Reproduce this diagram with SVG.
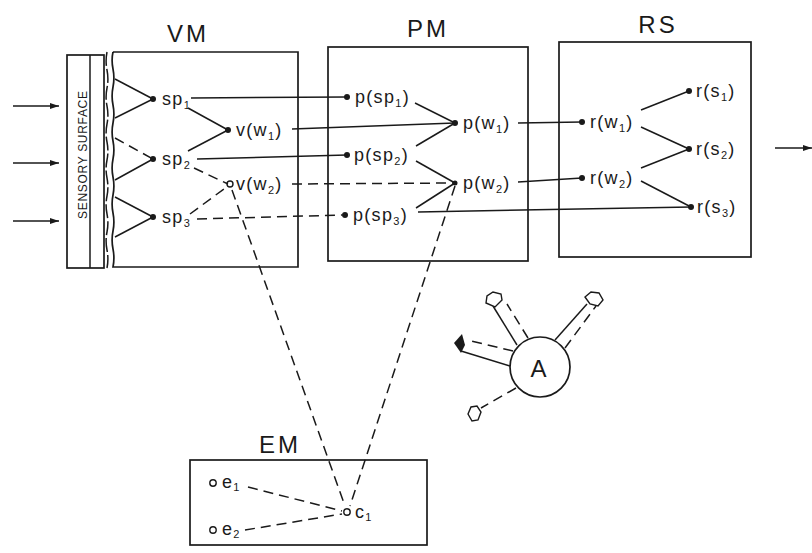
<svg xmlns="http://www.w3.org/2000/svg" width="812" height="553" viewBox="0 0 812 553">
<defs>
<style>
.ln{stroke:#1a1a1a;stroke-width:1.5;fill:none}
.ds{stroke:#1a1a1a;stroke-width:1.5;fill:none;stroke-dasharray:10,6}
.box{stroke:#1a1a1a;stroke-width:1.7;fill:none}
.t{font-family:"Liberation Sans","DejaVu Sans",sans-serif;font-size:18px;fill:#1a1a1a;letter-spacing:1.3px}
.ti{font-family:"Liberation Sans","DejaVu Sans",sans-serif;font-size:24px;fill:#1a1a1a;letter-spacing:3px}
.sub{font-size:11px}
.dot{fill:#1a1a1a}
.od{fill:#fff;stroke:#1a1a1a;stroke-width:1.4}
</style>
<marker id="ar" markerWidth="10" markerHeight="8" refX="9" refY="4" orient="auto" markerUnits="userSpaceOnUse">
<path d="M0,1 L9,4 L0,7 Z" fill="#1a1a1a"/>
</marker>
</defs>
<rect width="812" height="553" fill="#fff"/>

<g id="inputs">
<line class="ln" x1="13" y1="106" x2="59" y2="106" marker-end="url(#ar)"/>
<line class="ln" x1="13" y1="163" x2="59" y2="163" marker-end="url(#ar)"/>
<line class="ln" x1="13" y1="221" x2="59" y2="221" marker-end="url(#ar)"/>
</g>

<g id="sensory-surface">
<rect class="box" x="67" y="55" width="37" height="213"/>
<line class="ln" x1="90" y1="55" x2="90" y2="268"/>
<text transform="translate(87,155) rotate(-90)" text-anchor="middle" font-family="Liberation Sans, DejaVu Sans, sans-serif" font-size="12" fill="#1a1a1a" textLength="128" lengthAdjust="spacing">SENSORY SURFACE</text>
<path class="ln" stroke-dasharray="14,3" d="M107,52 q-1.8,9 0,18 t0,18 t0,18 t0,18 t0,18 t0,18 t0,18 t0,18 t0,18 t0,18 t0,18 t0,18"/>
</g>

<g id="VM">
<text class="ti" x="188" y="42" text-anchor="middle">VM</text>
<path class="box" d="M113,52 H298 V267 H113 q1.8,-9 0,-18 t0,-18 t0,-18 t0,-18 t0,-18 t0,-18 t0,-18 t0,-18 t0,-18 t0,-18 t0,-18 t0,-17"/>
</g>
<g id="sp1"><circle class="dot" cx="153" cy="99" r="3"/><text class="t" x="162" y="105">sp<tspan class="sub" dy="4">1</tspan></text></g>
<g id="sp2"><circle class="dot" cx="153" cy="159" r="3"/><text class="t" x="162" y="165">sp<tspan class="sub" dy="4">2</tspan></text></g>
<g id="sp3"><circle class="dot" cx="153" cy="217" r="3"/><text class="t" x="162" y="223">sp<tspan class="sub" dy="4">3</tspan></text></g>
<g id="vw1"><circle class="dot" cx="228" cy="130" r="3"/><text class="t" x="236" y="136">v(w<tspan class="sub" dy="4">1</tspan><tspan dy="-4">)</tspan></text></g>
<g id="vw2"><circle class="od" cx="230" cy="184" r="3"/><text class="t" x="236" y="190">v(w<tspan class="sub" dy="4">2</tspan><tspan dy="-4">)</tspan></text></g>

<g id="PM">
<text class="ti" x="428" y="37" text-anchor="middle">PM</text>
<rect class="box" x="328" y="47" width="200" height="214"/>
</g>
<g id="psp1"><circle class="dot" cx="347" cy="97" r="3"/><text class="t" x="355" y="103">p(sp<tspan class="sub" dy="4">1</tspan><tspan dy="-4">)</tspan></text></g>
<g id="psp2"><circle class="dot" cx="347" cy="155" r="3"/><text class="t" x="354" y="161">p(sp<tspan class="sub" dy="4">2</tspan><tspan dy="-4">)</tspan></text></g>
<g id="psp3"><circle class="dot" cx="345" cy="215" r="3"/><text class="t" x="353" y="221">p(sp<tspan class="sub" dy="4">3</tspan><tspan dy="-4">)</tspan></text></g>
<g id="pw1"><circle class="dot" cx="455" cy="123" r="3"/><text class="t" x="463" y="129">p(w<tspan class="sub" dy="4">1</tspan><tspan dy="-4">)</tspan></text></g>
<g id="pw2"><circle class="dot" cx="455" cy="183" r="2.5"/><text class="t" x="463" y="189">p(w<tspan class="sub" dy="4">2</tspan><tspan dy="-4">)</tspan></text></g>

<g id="RS">
<text class="ti" x="658" y="33" text-anchor="middle">RS</text>
<rect class="box" x="559" y="42" width="192" height="215"/>
</g>
<g id="rw1"><circle class="dot" cx="582" cy="122" r="3"/><text class="t" x="590" y="128">r(w<tspan class="sub" dy="4">1</tspan><tspan dy="-4">)</tspan></text></g>
<g id="rw2"><circle class="dot" cx="582" cy="178" r="3"/><text class="t" x="590" y="184">r(w<tspan class="sub" dy="4">2</tspan><tspan dy="-4">)</tspan></text></g>
<g id="rs1"><circle class="dot" cx="689" cy="91" r="3"/><text class="t" x="696" y="97">r(s<tspan class="sub" dy="4">1</tspan><tspan dy="-4">)</tspan></text></g>
<g id="rs2"><circle class="dot" cx="689" cy="149" r="3"/><text class="t" x="696" y="155">r(s<tspan class="sub" dy="4">2</tspan><tspan dy="-4">)</tspan></text></g>
<g id="rs3"><circle class="dot" cx="691" cy="207" r="3"/><text class="t" x="697" y="213">r(s<tspan class="sub" dy="4">3</tspan><tspan dy="-4">)</tspan></text></g>

<g id="output">
<line class="ln" x1="775" y1="148" x2="812" y2="148" marker-end="url(#ar)"/>
</g>

<g id="A">
<circle cx="540" cy="367" r="30" fill="#fff" stroke="#1a1a1a" stroke-width="1.7"/>
<text class="ti" x="540" y="377" text-anchor="middle" letter-spacing="0">A</text>
<line class="ln" x1="517" y1="345" x2="493" y2="306"/>
<line class="ds" stroke-dasharray="8,5" x1="528" y1="338" x2="507" y2="304"/>
<polygon class="od" fill="none" points="486,303 487,296 493,292 501,294 502,300 495,307"/>
<line class="ln" x1="555" y1="340" x2="587" y2="304"/>
<line class="ds" stroke-dasharray="8,5" x1="565" y1="348" x2="596" y2="306"/>
<polygon class="od" fill="none" points="585,297 591,292 599,293 603,300 598,306 590,304"/>
<line class="ln" x1="510" y1="366" x2="461" y2="351"/>
<line class="ds" stroke-dasharray="8,5" x1="513" y1="351" x2="467" y2="340"/>
<polygon fill="#1a1a1a" points="454,343 462,334 465,345 461,353"/>
<line class="ds" stroke-dasharray="8,5" x1="516" y1="388" x2="481" y2="408"/>
<polygon class="od" fill="none" points="468,414 471,407 477,406 481,412 478,420 472,421"/>
</g>

<g id="EM">
<text class="ti" x="280" y="453" text-anchor="middle">EM</text>
<rect class="box" x="190" y="460" width="237" height="85"/>
</g>
<g id="e1"><circle class="od" cx="213" cy="483" r="3.2"/><text class="t" x="222" y="488">e<tspan class="sub" dy="3">1</tspan></text></g>
<g id="e2"><circle class="od" cx="213" cy="530" r="3.2"/><text class="t" x="222" y="535">e<tspan class="sub" dy="3">2</tspan></text></g>
<g id="c1"><circle class="od" cx="347" cy="512" r="3.2"/><text class="t" x="355" y="518">c<tspan class="sub" dy="3">1</tspan></text></g>

<g id="connectors">
<line class="ln" x1="115" y1="79" x2="153" y2="99"/>
<line class="ln" x1="115" y1="118" x2="153" y2="99"/>
<line class="ds" x1="115" y1="138" x2="153" y2="159"/>
<line class="ln" x1="115" y1="180" x2="153" y2="159"/>
<line class="ln" x1="115" y1="197" x2="153" y2="217"/>
<line class="ln" x1="115" y1="237" x2="153" y2="217"/>
<line class="ln" x1="188" y1="108" x2="228" y2="130"/>
<line class="ln" x1="188" y1="151" x2="228" y2="130"/>
<line class="ds" stroke-dasharray="8,5" x1="194" y1="168" x2="228" y2="184"/>
<line class="ds" stroke-dasharray="8,5" x1="190" y1="214" x2="228" y2="186"/>
<line class="ln" x1="191" y1="98" x2="347" y2="97"/>
<line class="ln" x1="292" y1="129" x2="455" y2="123"/>
<line class="ln" x1="197" y1="159" x2="347" y2="155"/>
<line class="ds" x1="292" y1="184" x2="453" y2="183"/>
<line class="ds" x1="197" y1="219" x2="342" y2="215"/>
<line class="ln" x1="415" y1="103" x2="455" y2="123"/>
<line class="ln" x1="416" y1="146" x2="455" y2="123"/>
<line class="ln" x1="416" y1="161" x2="455" y2="183"/>
<line class="ln" x1="416" y1="208" x2="455" y2="183"/>
<line class="ln" x1="518" y1="123" x2="582" y2="122"/>
<line class="ln" x1="518" y1="182" x2="582" y2="178"/>
<line class="ln" x1="418" y1="212" x2="691" y2="207"/>
<line class="ln" x1="641" y1="110" x2="689" y2="91"/>
<line class="ln" x1="641" y1="127" x2="689" y2="149"/>
<line class="ln" x1="641" y1="168" x2="689" y2="149"/>
<line class="ln" x1="641" y1="181" x2="691" y2="207"/>
<line class="ds" stroke-dasharray="11,9" x1="232" y1="190" x2="345" y2="506"/>
<line class="ds" stroke-dasharray="11,9" x1="455" y1="186" x2="350" y2="506"/>
<line class="ds" stroke-dasharray="10,7" x1="248" y1="487" x2="342" y2="511"/>
<line class="ds" stroke-dasharray="10,7" x1="245" y1="530" x2="342" y2="514"/>
</g>
</svg>
